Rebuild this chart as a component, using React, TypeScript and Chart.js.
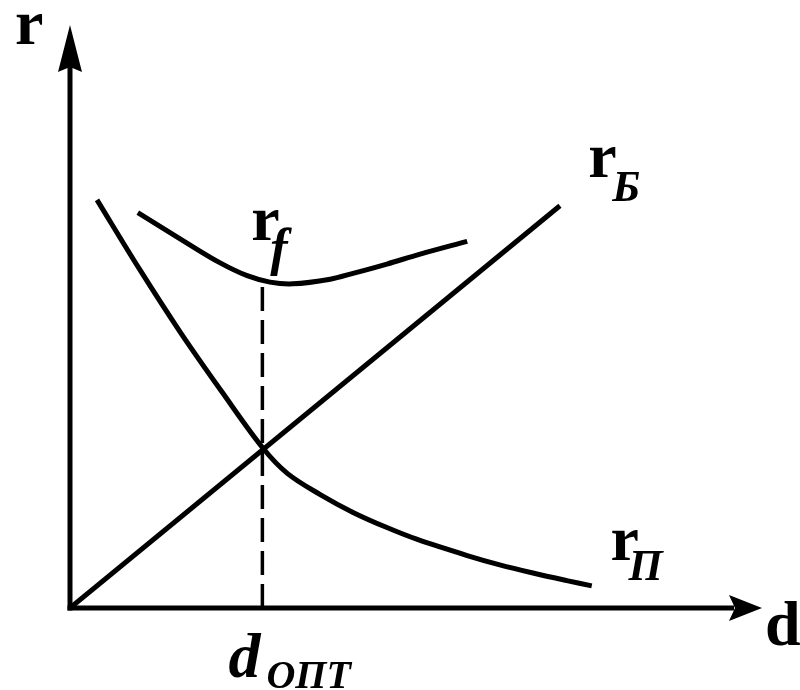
import React, { useEffect, useRef } from "react";
import { Chart, registerables } from "chart.js";

Chart.register(...registerables);

// r_Б : linear growth
const rbX = [0, 70.8];
const rbY = [0, 69.0];
// r_П : decreasing curve
const rpX = [3.9, 10.0, 16.0, 22.0, 27.9, 31.4, 36.1, 40.9, 45.8, 50.1, 57.4, 62.1, 66.9, 71.8, 75.4];
const rpY = [70.0, 58.2, 47.2, 37.0, 27.4, 23.1, 19.5, 16.4, 13.8, 11.8, 9.0, 7.4, 6.0, 4.7, 3.8];
// r_f : U-shaped total curve
const rfX = [9.8, 16.9, 21.7, 25.6, 28.9, 32.2, 37.6, 40.9, 45.8, 50.6, 57.4];
const rfY = [67.8, 62.6, 59.2, 57.0, 55.9, 55.6, 56.4, 57.4, 59.0, 60.7, 62.9];
// optimum
const dOpt = 27.8;
const rfAtOpt = 56.0;

const labelTexts = ["r", "r", "r", "d"];
const labelSubs = ["Б", "П", "f", "ОПТ"];
const labelX = [74.9, 78.1, 26.2, 22.9];
const labelY = [74.0, 8.3, 63.2, -11.8];

const pts = (xs: number[], ys: number[]) => xs.map((x, i) => ({ x, y: ys[i] }));

const SERIF = '"Liberation Serif", "DejaVu Serif", serif';

export default function App() {
  const ref = useRef<HTMLCanvasElement | null>(null);

  useEffect(() => {
    document.body.style.margin = "0";
    const canvas = ref.current;
    if (!canvas) return;

    const axesPlugin = {
      id: "axesPlugin",
      beforeDatasetsDraw(chart: any) {
        const { ctx, chartArea } = chart;
        const { left, right, top, bottom } = chartArea;
        ctx.save();
        ctx.strokeStyle = "#000";
        ctx.fillStyle = "#000";
        ctx.lineWidth = 5;
        ctx.lineCap = "butt";
        // y axis
        ctx.beginPath();
        ctx.moveTo(left, bottom + 2.5);
        ctx.lineTo(left, top + 40);
        ctx.stroke();
        // x axis
        ctx.beginPath();
        ctx.moveTo(left - 2.5, bottom);
        ctx.lineTo(right - 28, bottom);
        ctx.stroke();
        // y arrow
        ctx.beginPath();
        ctx.moveTo(left, top);
        ctx.lineTo(left + 12, top + 47);
        ctx.lineTo(left, top + 42);
        ctx.lineTo(left - 12, top + 47);
        ctx.closePath();
        ctx.fill();
        // x arrow
        ctx.beginPath();
        ctx.moveTo(right, bottom);
        ctx.lineTo(right - 33, bottom - 13);
        ctx.lineTo(right - 27, bottom);
        ctx.lineTo(right - 33, bottom + 13);
        ctx.closePath();
        ctx.fill();
        ctx.restore();
      },
      afterDraw(chart: any) {
        const { ctx, chartArea, scales } = chart;
        const { left, right, top, bottom } = chartArea;
        ctx.save();
        ctx.fillStyle = "#000";
        ctx.textBaseline = "alphabetic";
        ctx.textAlign = "left";
        // axis names
        ctx.font = `bold 64px ${SERIF}`;
        ctx.fillText("r", left - 55, top + 19);
        ctx.fillText("d", right + 3, bottom + 37);
        // curve labels
        const subDx = [24, 18, 19, 38];
        const subDy = [24, 20, 25, 11];
        const subSize = [44, 44, 52, 40];
        labelTexts.forEach((t, i) => {
          const px = scales.x.getPixelForValue(labelX[i]);
          const py = scales.y.getPixelForValue(labelY[i]);
          ctx.font = i === 3 ? `italic bold 64px ${SERIF}` : `bold 64px ${SERIF}`;
          ctx.fillText(t, px, py);
          ctx.font = `italic bold ${subSize[i]}px ${SERIF}`;
          ctx.fillText(labelSubs[i], px + subDx[i], py + subDy[i]);
        });
        ctx.restore();
      },
    };

    const chart = new Chart(canvas, {
      type: "line",
      data: {
        datasets: [
          {
            label: "rБ",
            data: pts(rbX, rbY),
            borderColor: "#000",
            borderWidth: 5,
            pointRadius: 0,
            tension: 0,
          },
          {
            label: "rП",
            data: pts(rpX, rpY),
            borderColor: "#000",
            borderWidth: 5,
            pointRadius: 0,
            tension: 0.35,
          },
          {
            label: "rf",
            data: pts(rfX, rfY),
            borderColor: "#000",
            borderWidth: 5,
            pointRadius: 0,
            tension: 0.35,
          },
          {
            label: "dopt",
            data: [
              { x: dOpt, y: 0 },
              { x: dOpt, y: rfAtOpt },
            ],
            borderColor: "#000",
            borderWidth: 3.5,
            borderDash: [24, 9],
            pointRadius: 0,
            tension: 0,
          },
        ],
      },
      options: {
        animation: false,
        responsive: false,
        maintainAspectRatio: false,
        layout: { padding: { left: 70, right: 38, top: 25, bottom: 82 } },
        plugins: {
          legend: { display: false },
          tooltip: { enabled: false },
          title: { display: false },
        },
        scales: {
          x: { type: "linear", min: 0, max: 100, display: false },
          y: { type: "linear", min: 0, max: 100, display: false },
        },
      },
      plugins: [axesPlugin],
    } as any);

    return () => chart.destroy();
  }, []);

  return (
    <div style={{ position: "fixed", left: 0, top: 0, width: 800, height: 690, background: "#fff" }}>
      <canvas ref={ref} width={800} height={690} style={{ width: 800, height: 690, display: "block" }} />
    </div>
  );
}
